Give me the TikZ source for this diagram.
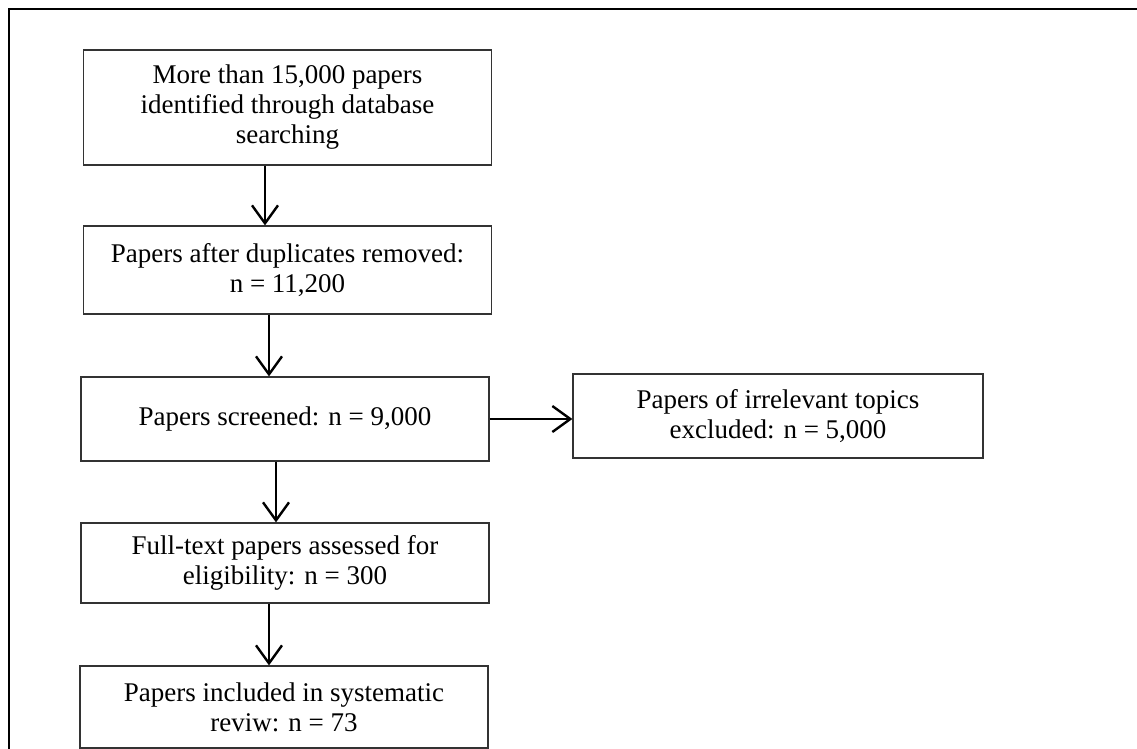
\documentclass[tikz,border=0pt]{standalone}
\usepackage{fontspec}
\setmainfont{Liberation Serif}
\usepackage{xcolor}
\usetikzlibrary{arrows.meta}

\begin{document}
\begin{tikzpicture}[x=1pt,y=-1pt,
        box/.style = {shape=rectangle, draw=black!80, line width=1.2pt,
          align=center, inner sep=0pt, minimum width=408pt,
          font=\fontsize{27}{30}\selectfont},
        arr/.style = {line width=2.4pt,
          -{Straight Barb[length=18pt,width=26pt,line width=2.4pt]}}]
        \useasboundingbox (0,0) rectangle (1137,749);
        % outer frame
        \draw[line width=2.5pt] (9,760) -- (9,9) -- (1145,9);
        \node[box,minimum height=115pt] (search) at (287.5,107.5)
            {More than 15,000 papers\\identified through database\\searching};
        \node[box,minimum height=88pt] (dedup) at (287.5,270)
            {Papers after duplicates removed:\\n = 11,200};
        \node[box,minimum height=84pt] (screen) at (285,419)
            {Papers screened: n = 9,000};
        \node[box,minimum height=84pt,minimum width=410pt] (excl) at (778,416)
            {Papers of irrelevant topics\\excluded: n = 5,000};
        \node[box,minimum height=80pt] (full) at (285,563)
            {Full-text papers assessed for\\eligibility: n = 300};
        \node[box,minimum height=82pt] (incl) at (284,707)
            {Papers included in systematic\\reviw: n = 73};
        % arrows
        \draw[arr] (search.south -| 265,0) -- (dedup.north -| 265,0);
        \draw[arr] (dedup.south -| 269,0) -- (screen.north -| 269,0);
        \draw[arr] (screen.east) -- (screen.east -| excl.west);
        \draw[arr] (screen.south -| 276,0) -- (full.north -| 276,0);
        \draw[arr] (full.south -| 269,0) -- (incl.north -| 269,0);
\end{tikzpicture}
\end{document}
